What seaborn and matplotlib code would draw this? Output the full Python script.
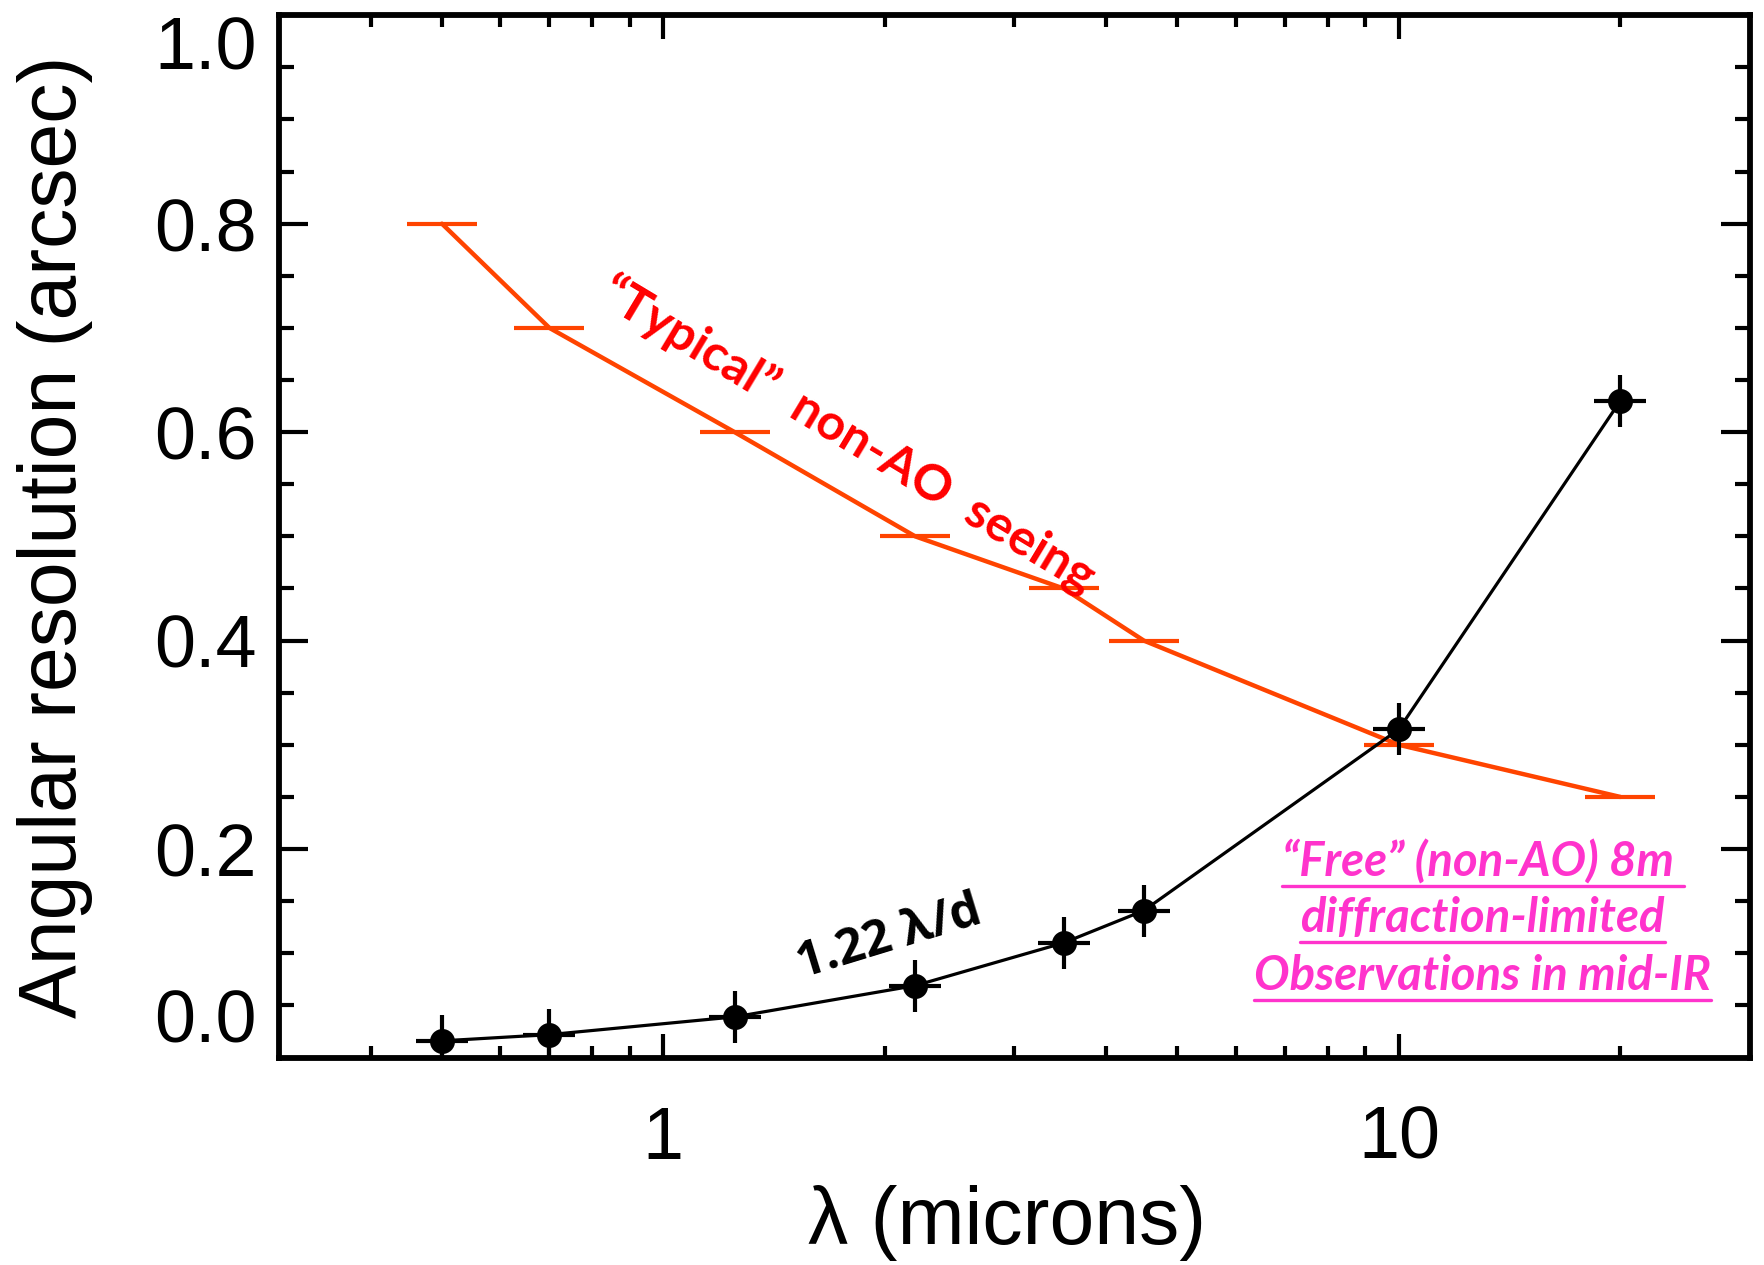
import matplotlib
matplotlib.use("Agg")
import matplotlib.pyplot as plt
import seaborn as sns
import pandas as pd
from matplotlib.ticker import FixedLocator, FixedFormatter, NullFormatter, MultipleLocator
from matplotlib.lines import Line2D

# Wavelengths of the sampled bands (microns)
wavelength_um = [0.5, 0.7, 1.25, 2.2, 3.5, 4.5, 10.0, 20.0]
# Typical seeing-limited resolution without adaptive optics (arcsec)
seeing_arcsec = [0.80, 0.70, 0.60, 0.50, 0.45, 0.40, 0.30, 0.25]
# Diffraction limit 1.22 lambda/d for an 8 m aperture (arcsec)
diffraction_arcsec = [0.016, 0.022, 0.039, 0.069, 0.110, 0.141, 0.315, 0.630]

x_major_ticks = [1, 10]
x_major_labels = ["1", "10"]
x_minor_ticks = [0.4, 0.5, 0.6, 0.7, 0.8, 0.9, 2, 3, 4, 5, 6, 7, 8, 9, 20, 30]
y_major_ticks = [0.0, 0.2, 0.4, 0.6, 0.8, 1.0]
y_major_labels = ["0.0", "0.2", "0.4", "0.6", "0.8", "1.0"]

seeing_color = "#FF4400"
note_red = "#FF0000"
note_pink = "#FF33CC"

sns.set_theme(style="ticks")
plt.rcParams["font.family"] = ["Liberation Sans", "DejaVu Sans"]
plt.rcParams["text.color"] = "black"
plt.rcParams["axes.labelcolor"] = "black"
plt.rcParams["xtick.color"] = "black"
plt.rcParams["ytick.color"] = "black"

df = pd.DataFrame({
    "wavelength": wavelength_um,
    "seeing": seeing_arcsec,
    "diffraction": diffraction_arcsec,
})

fig = plt.figure(figsize=(17.64, 12.65), dpi=100)
ax = fig.add_axes([0.158, 0.164, 0.834, 0.824])

# Seeing curve with horizontal bar symbols
sns.lineplot(data=df, x="wavelength", y="seeing", ax=ax, color=seeing_color,
             linewidth=3.2, marker="_", markersize=50, markeredgewidth=3.0,
             markeredgecolor=seeing_color, markerfacecolor=seeing_color,
             sort=False, errorbar=None, zorder=3)
# Diffraction-limit curve with filled circles
sns.lineplot(data=df, x="wavelength", y="diffraction", ax=ax, color="black",
             linewidth=2.3, marker="o", markersize=18, markeredgewidth=0,
             markerfacecolor="black",
             sort=False, errorbar=None, zorder=4)
# Cross symbols on the diffraction-limit points
sns.scatterplot(data=df, x="wavelength", y="diffraction", ax=ax, marker="+",
                s=37 ** 2, color="black", linewidth=3.0, zorder=5, legend=False)

ax.set_xscale("log")
ax.set_xlim(0.3, 30)
ax.set_ylim(0.0, 1.0)

ax.xaxis.set_major_locator(FixedLocator(x_major_ticks))
ax.xaxis.set_major_formatter(FixedFormatter(x_major_labels))
ax.xaxis.set_minor_locator(FixedLocator(x_minor_ticks))
ax.xaxis.set_minor_formatter(NullFormatter())
ax.yaxis.set_major_locator(FixedLocator(y_major_ticks))
ax.yaxis.set_major_formatter(FixedFormatter(y_major_labels))
ax.yaxis.set_minor_locator(MultipleLocator(0.05))

for side in ax.spines.values():
    side.set_linewidth(4.2)
    side.set_color("black")

ax.tick_params(axis="both", which="both", direction="in", top=True, right=True,
               width=3.0, color="black", labelcolor="black")
ax.tick_params(axis="x", which="major", length=17, pad=34, labelsize=53)
ax.tick_params(axis="x", which="minor", length=8.5)
ax.tick_params(axis="y", which="major", length=21, pad=16, labelsize=53)
ax.tick_params(axis="y", which="minor", length=11)

# Keep the end labels of the y axis inside the frame height
yticks = ax.yaxis.get_major_ticks()
yticks[0].label1.set_verticalalignment("bottom")
yticks[-1].label1.set_verticalalignment("top")

ax.set_xlabel("λ (microns)", fontsize=58, color="black")
ax.set_ylabel("Angular resolution (arcsec)", fontsize=58, color="black")
ax.xaxis.set_label_coords(0.495, -0.122)
ax.yaxis.set_label_coords(-0.126, 0.5)

ax.text(1.78, 0.597, "\u201cTypical\u201d  non-AO  seeing", color=note_red,
        fontsize=36, fontweight="bold", family=["Lato", "DejaVu Sans"],
        rotation=-31, rotation_mode="anchor", ha="center", va="center", zorder=6)

ax.text(2.03, 0.114, "1.22 λ/d", color="black", fontsize=35, fontweight="bold",
        family=["Open Sans", "DejaVu Sans"], rotation=17, rotation_mode="anchor",
        ha="center", va="center", zorder=6)

note_lines = ["\u201cFree\u201d (non-AO) 8m\u00a0", "diffraction-limited",
              "Observations in mid-IR"]
note_baselines = [0.174, 0.120, 0.065]
note_texts = []
for line, yb in zip(note_lines, note_baselines):
    t = ax.text(13.0, yb, line, color=note_pink, fontsize=34, fontweight="bold",
                fontstyle="italic", family=["Lato", "DejaVu Sans"],
                ha="center", va="baseline", zorder=6)
    note_texts.append((t, yb))

# Underline each note line
fig.canvas.draw()
renderer = fig.canvas.get_renderer()
for t, yb in note_texts:
    bb = t.get_window_extent(renderer=renderer)
    _, ybase = ax.transData.transform((13.0, yb))
    yline = ybase - 10
    fig.add_artist(Line2D([bb.x0, bb.x1], [yline, yline], transform=None,
                          color=note_pink, linewidth=2.4, zorder=6))

fig.savefig("out.png", dpi=100)
